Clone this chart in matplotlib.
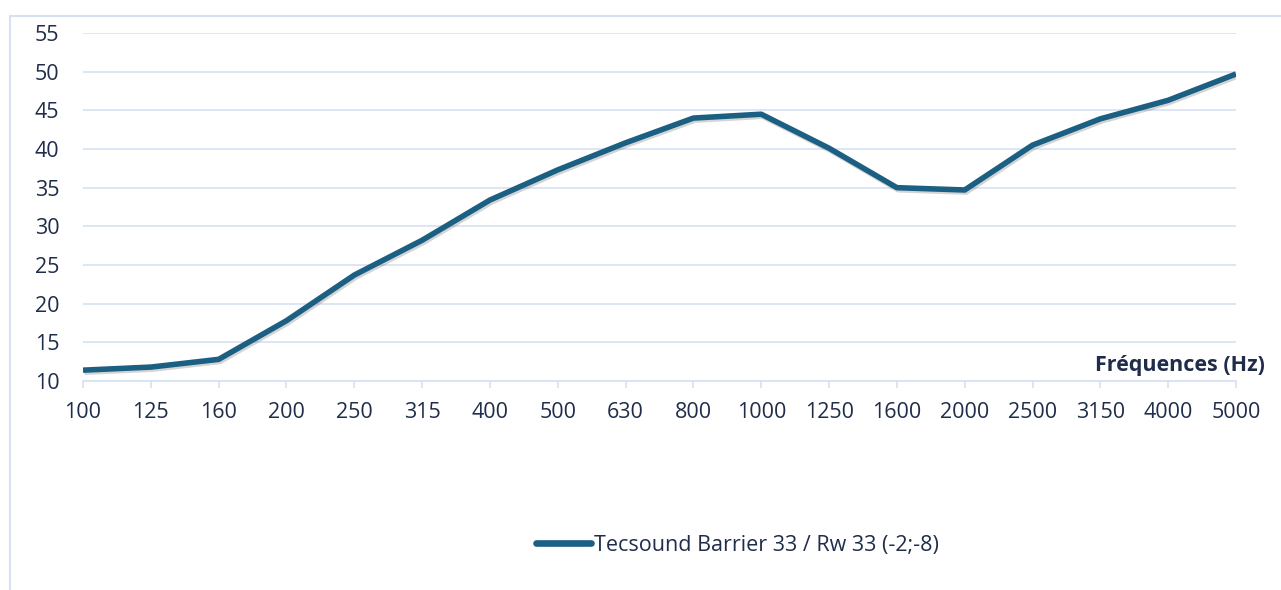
import matplotlib.pyplot as plt
import matplotlib.patheffects as pe
from matplotlib.lines import Line2D

freqs = ['100', '125', '160', '200', '250', '315', '400', '500', '630', '800',
         '1000', '1250', '1600', '2000', '2500', '3150', '4000', '5000']
values = [11.4, 11.8, 12.8, 17.8, 23.7, 28.2, 33.4, 37.3, 40.8, 44.0,
          44.5, 40.1, 35.0, 34.7, 40.5, 43.9, 46.3, 49.7]
series_name = 'Tecsound Barrier 33 / Rw 33 (-2;-8)'

line_color = '#1b5f82'
text_color = '#1f2d4a'
grid_color = '#d6e2f2'

plt.rcParams['font.family'] = ['Open Sans', 'DejaVu Sans']

W, H = 1281, 590
fig = plt.figure(figsize=[W / 100, H / 100], dpi=100)
ax = fig.add_axes([83 / W, 1 - 381 / H, (1236 - 83) / W, (381 - 33) / H])

x = list(range(len(freqs)))
ax.plot(x, values, color=line_color, lw=4.0, solid_capstyle='butt', zorder=3,
        path_effects=[pe.SimpleLineShadow(offset=(1, -1.5), shadow_color='#555555', alpha=0.25),
                      pe.Normal()])

ax.set_xlim(0, len(freqs) - 1)
ax.set_ylim(10, 55)
ax.set_yticks(range(10, 56, 5))
ax.set_xticks(x)
ax.set_xticklabels(freqs)
ax.grid(axis='y', color=grid_color, lw=1.2)
ax.set_axisbelow(True)
for s in ['top', 'right', 'left']:
    ax.spines[s].set_visible(False)
ax.spines['bottom'].set_color(grid_color)
ax.spines['bottom'].set_linewidth(1.2)
ax.tick_params(axis='y', length=0, pad=17, labelsize=15.5, labelcolor=text_color)
ax.tick_params(axis='x', length=5, width=1.2, color=grid_color, pad=10,
               labelsize=15.5, labelcolor=text_color)

fig.text(1265 / W, 1 - 366 / H, 'Fréquences (Hz)', ha='right', va='center',
         fontsize=15.5, fontweight='bold', color=text_color)

# legend
handle = Line2D([], [], color=line_color, lw=4.8, solid_capstyle='round')
fig.legend([handle], [series_name], loc='center', bbox_to_anchor=(737 / W, 1 - 545 / H),
           frameon=False, fontsize=15.5, labelcolor=text_color, handlelength=2.6,
           handletextpad=0.1)

# outer chart border
fig.add_artist(Line2D([10 / W, 10 / W], [0, 1 - 16 / H], color=grid_color, lw=1.5))
fig.add_artist(Line2D([10 / W, 1], [1 - 16 / H, 1 - 16 / H], color=grid_color, lw=1.5))

fig.savefig('out.png', dpi=100)
